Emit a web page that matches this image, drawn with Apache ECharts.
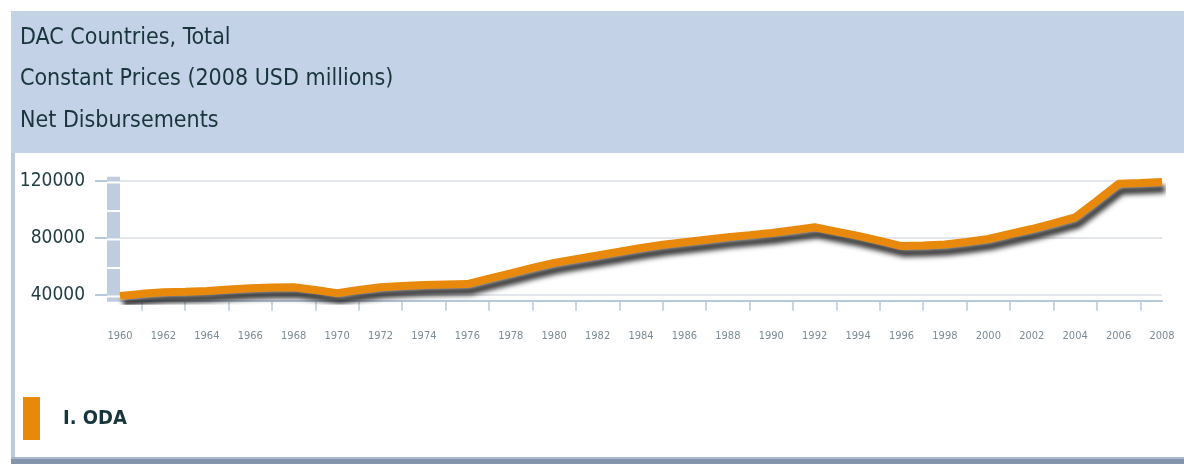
<!DOCTYPE html>
<html><head><meta charset="utf-8">
<script src="https://cdn.jsdelivr.net/npm/echarts@6/dist/echarts.min.js"></script>
<style>html,body{margin:0;padding:0;background:#fff}#c{width:1184px;height:464px}</style>
</head><body><div id="c"></div>
<script>
const titleLines = ['DAC Countries, Total', 'Constant Prices (2008 USD millions)', 'Net Disbursements'];
const seriesName = 'I. ODA';
const years = ['1960','1961','1962','1963','1964','1965','1966','1967','1968','1969',
  '1970','1971','1972','1973','1974','1975','1976','1977','1978','1979',
  '1980','1981','1982','1983','1984','1985','1986','1987','1988','1989',
  '1990','1991','1992','1993','1994','1995','1996','1997','1998','1999',
  '2000','2001','2002','2003','2004','2005','2006','2007','2008'];
const odaValues = [39300, 40800, 41900, 42200, 42800, 43800, 44700, 45200, 45400, 43500,
  41300, 43500, 45500, 46300, 47000, 47400, 47700, 51500, 55200, 59000,
  62500, 65200, 67700, 70300, 73000, 75200, 77000, 78800, 80600, 82000,
  83500, 85500, 87500, 84500, 81500, 78000, 74300, 74800, 75500, 77200,
  79300, 82800, 86300, 90300, 94500, 106000, 118000, 118500, 119200];
const yTickLabels = [40000, 80000, 120000];
const wallBands = [40000, 60000, 80000, 100000, 120000];
const Y_MIN = 36000, Y_MAX = 123000, Y_STEP = 4000;

const FONT = "'DejaVu Sans Condensed', 'Liberation Sans Narrow', 'DejaVu Sans', sans-serif";
const ORANGE = '#e8890b';
const LIGHTBLUE = '#b9c9dd';

const gridColors = [];
for (let i = 0; i < yTickLabels[0] / Y_STEP; i++) {
  gridColors.push(i === (yTickLabels[0] - Y_MIN) / Y_STEP ? '#e3e6ea' : 'rgba(0,0,0,0)');
}

const chart = echarts.init(document.getElementById('c'));
chart.setOption({
  animation: false,
  backgroundColor: '#ffffff',
  graphic: { elements: [
    { type: 'rect', z: -10, shape: { x: 11, y: 11, width: 1173, height: 142 }, style: { fill: '#c3d2e7' } },
    { type: 'rect', z: -10, shape: { x: 11, y: 153, width: 4, height: 306 }, style: { fill: '#bccbe0' } },
    { type: 'rect', z: -10, shape: { x: 11, y: 457, width: 1173, height: 2 }, style: { fill: '#a9b8cc' } },
    { type: 'rect', z: -10, shape: { x: 11, y: 459, width: 1173, height: 5 }, style: { fill: '#8494ab' } }
  ]},
  title: {
    text: titleLines.join('\n'),
    left: 20, top: 17, padding: 0,
    textStyle: { fontFamily: FONT, fontSize: 23, fontWeight: 'normal', lineHeight: 41.5, color: '#17353b' }
  },
  legend: {
    data: [seriesName],
    left: 23, top: 397, padding: 0,
    icon: 'rect', itemWidth: 17, itemHeight: 43,
    itemStyle: { shadowBlur: 0, shadowColor: 'rgba(0,0,0,0)', shadowOffsetX: 0, shadowOffsetY: 0 },
    textStyle: { fontFamily: FONT, fontSize: 20, fontWeight: 'bold', color: '#17353b', padding: [0, 0, 0, 18] }
  },
  grid: { left: 120, right: 22, top: 176.7, bottom: 163.3, containLabel: false },
  xAxis: {
    type: 'category', data: years, boundaryGap: false,
    axisLine: { lineStyle: { color: LIGHTBLUE, width: 2 } },
    axisTick: { length: 10, interval: (i) => i % 2 === 1, lineStyle: { color: LIGHTBLUE, width: 1.5 } },
    axisLabel: { interval: (i) => i % 2 === 0, margin: 30, fontFamily: FONT, fontSize: 11, color: '#7a8a94' },
    splitLine: { show: false }
  },
  yAxis: {
    type: 'value', min: Y_MIN, max: Y_MAX, interval: Y_STEP,
    axisLine: { show: false }, axisTick: { show: false },
    axisLabel: { margin: 35, fontFamily: FONT, fontSize: 19, color: '#1e3c42',
      formatter: (v) => yTickLabels.indexOf(v) >= 0 ? String(v) : '' },
    splitLine: { show: true, lineStyle: { color: gridColors, width: 2 } }
  },
  series: [
    {
      type: 'custom', name: 'wall', silent: true, clip: false, z: 1,
      data: [[0, Y_MIN]],
      renderItem: (params, api) => {
        const pBot = api.coord([0, Y_MIN]);
        const x0 = pBot[0], yBot = pBot[1] + 1;
        const yTop = api.coord([0, Y_MAX])[1];
        const children = [{ type: 'rect', shape: { x: x0 - 13, y: yTop, width: 13, height: yBot - yTop }, style: { fill: '#bfcddf' } }];
        wallBands.forEach(v => {
          const y = api.coord([0, v])[1];
          children.push({ type: 'line', shape: { x1: x0 - 13, y1: y + 1.5, x2: x0, y2: y + 1.5 }, style: { stroke: '#ffffff', lineWidth: 2 } });
        });
        yTickLabels.forEach(v => {
          const y = api.coord([0, v])[1];
          children.push({ type: 'line', shape: { x1: x0 - 25, y1: y, x2: x0 - 13, y2: y }, style: { stroke: LIGHTBLUE, lineWidth: 2 } });
        });
        return { type: 'group', children };
      }
    },
    {
      type: 'line', name: seriesName, data: odaValues,
      showSymbol: false, symbol: 'none', z: 3,
      itemStyle: { color: ORANGE },
      lineStyle: { color: ORANGE, width: 8, shadowColor: 'rgba(25,25,25,0.85)', shadowBlur: 5, shadowOffsetX: 3, shadowOffsetY: 7 }
    }
  ]
});
</script></body></html>
